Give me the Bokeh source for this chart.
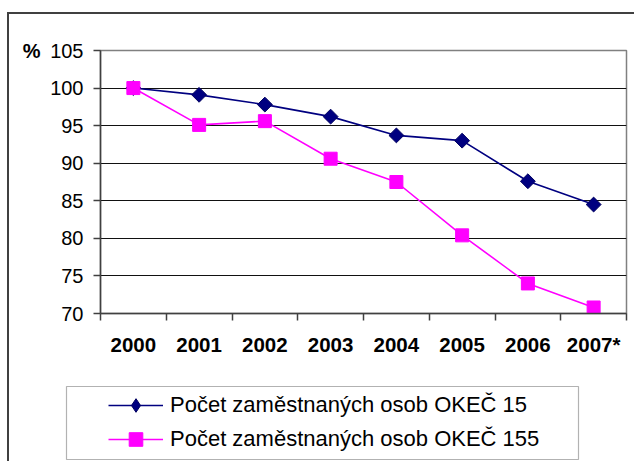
from bokeh.plotting import figure
from bokeh.layouts import column
from bokeh.models import (ColumnDataSource, Range1d, FixedTicker, Legend, LegendItem,
                          LinearAxis, Plot, Line, Scatter, BoxAnnotation)
from bokeh.embed import file_html
from bokeh.resources import INLINE

years = ["2000", "2001", "2002", "2003", "2004", "2005", "2006", "2007*"]
okec15 = [100.0, 99.1, 97.8, 96.2, 93.7, 93.0, 87.6, 84.5]
okec155 = [100.0, 95.1, 95.6, 90.6, 87.5, 80.4, 74.0, 70.8]
y_ticks = [70, 75, 80, 85, 90, 95, 100, 105]
y_unit = "%"
name15 = "Počet zaměstnaných osob OKEČ 15"
name155 = "Počet zaměstnaných osob OKEČ 155"

xpos = [i + 0.5 for i in range(len(years))]
src = ColumnDataSource(dict(x=xpos, a=okec15, b=okec155))

FONT = "Liberation Sans"
NAVY = "#000080"
MAG = "#FF00FF"

p = figure(width=625, height=356, output_backend="svg", toolbar_location=None,
           x_range=Range1d(0, len(years)), y_range=Range1d(y_ticks[0], y_ticks[-1]),
           min_border_left=91, min_border_top=36, min_border_right=8, min_border_bottom=57)
p.background_fill_color = "white"
p.border_fill_color = "white"
p.outline_line_color = "#808080"
p.outline_line_width = 1.5

# axes
yax = p.yaxis[0]
yax.ticker = FixedTicker(ticks=y_ticks)
yax.axis_line_color = "#404040"
yax.axis_line_width = 1.5
yax.major_tick_out = 7
yax.major_tick_in = 0
yax.major_tick_line_color = "#404040"
yax.major_tick_line_width = 1.5
yax.minor_tick_line_color = None
yax.major_label_text_font = FONT
yax.major_label_text_font_size = "20px"
yax.major_label_text_color = "black"
yax.major_label_standoff = 10

# unit label "%" as an outer left axis with a single tick at the top
uax = LinearAxis(ticker=FixedTicker(ticks=[y_ticks[-1]]),
                 major_label_overrides={y_ticks[-1]: y_unit})
uax.axis_line_color = None
uax.major_tick_line_color = None
uax.major_tick_out = 0
uax.major_tick_in = 0
uax.minor_tick_line_color = None
uax.major_label_text_font = FONT
uax.major_label_text_font_size = "20px"
uax.major_label_text_font_style = "bold"
uax.major_label_text_color = "black"
uax.major_label_standoff = 7
p.add_layout(uax, "left")

xax = p.xaxis[0]
xax.ticker = FixedTicker(ticks=xpos, minor_ticks=list(range(len(years) + 1)))
xax.major_label_overrides = {x: y for x, y in zip(xpos, years)}
xax.axis_line_color = "#404040"
xax.axis_line_width = 1.5
xax.major_tick_line_color = None
xax.major_tick_out = 0
xax.major_tick_in = 0
xax.minor_tick_out = 7
xax.minor_tick_in = 0
xax.minor_tick_line_color = "#404040"
xax.minor_tick_line_width = 1.5
xax.major_label_text_font = FONT
xax.major_label_text_font_size = "20.5px"
xax.major_label_text_font_style = "bold"
xax.major_label_text_color = "black"
xax.major_label_standoff = 12

p.xgrid.grid_line_color = None
p.ygrid.ticker = FixedTicker(ticks=y_ticks)
p.ygrid.grid_line_color = "#111111"
p.ygrid.grid_line_width = 1

# series
p.line("x", "a", source=src, line_color=NAVY, line_width=1.6)
p.scatter("x", "a", source=src, marker="square", angle=0.785398, size=10.5,
          fill_color=NAVY, line_color="#000060", line_width=1)
p.line("x", "b", source=src, line_color=MAG, line_width=1.6)
p.scatter("x", "b", source=src, marker="square", size=13,
          fill_color=MAG, line_color=MAG, line_width=1)

# legend panel: separate plot below the chart; data units = page pixels
pl = Plot(width=625, height=91, output_backend="svg", toolbar_location=None,
          x_range=Range1d(64, 590), y_range=Range1d(461, 370),
          min_border=0, outline_line_color=None,
          background_fill_alpha=0, border_fill_alpha=0)
pl.styles = {"margin-left": "-36px"}
r1l = pl.add_glyph(src, Line(x="x", y="a", line_color=NAVY, line_width=1.6))
r1m = pl.add_glyph(src, Scatter(x="x", y="a", marker="diamond", size=10.5,
                                fill_color=NAVY, line_color="#000060", line_width=1))
r2l = pl.add_glyph(src, Line(x="x", y="b", line_color=MAG, line_width=1.6))
r2m = pl.add_glyph(src, Scatter(x="x", y="b", marker="square", size=13,
                                fill_color=MAG, line_color=MAG, line_width=1))

pl.add_layout(BoxAnnotation(left=66, right=578, top=386, bottom=459,
                            fill_alpha=0, line_color="black", line_width=1.2))

legend = Legend(items=[LegendItem(label=name15, renderers=[r1l, r1m]),
                       LegendItem(label=name155, renderers=[r2l, r2m])],
                location=(42, 3), padding=2, margin=0, spacing=0,
                glyph_width=55, glyph_height=34, label_height=34, label_standoff=7,
                label_text_font=FONT, label_text_font_size="22px",
                label_text_color="black",
                border_line_alpha=0, background_fill_alpha=0)
pl.add_layout(legend, "center")

layout = column(p, pl, spacing=0)
layout.styles = {"margin-left": "7px", "margin-top": "12px",
                 "border-left": "2px solid #404040", "border-top": "2px solid #404040"}

open("out.html", "w").write(file_html(layout, INLINE))
